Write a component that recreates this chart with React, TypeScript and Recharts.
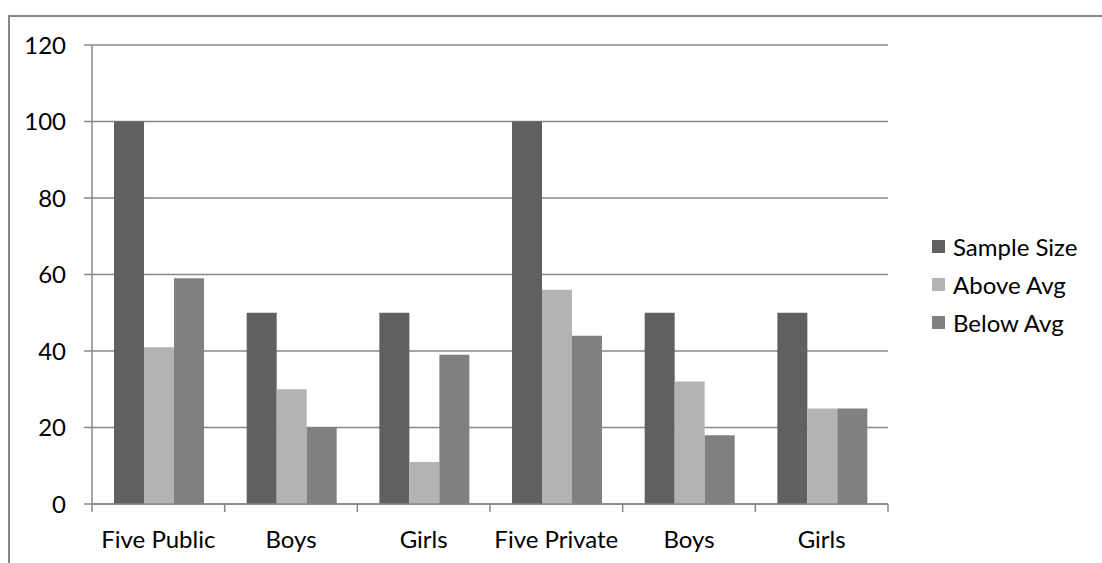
import { BarChart, Bar, XAxis, YAxis, CartesianGrid } from "recharts";

// categories and series values
const categories = ["Five Public", "Boys", "Girls", "Five Private", "Boys", "Girls"];
const sampleSize = [100, 50, 50, 100, 50, 50];
const aboveAvg = [41, 30, 11, 56, 32, 25];
const belowAvg = [59, 20, 39, 44, 18, 25];
const yTicks = [0, 20, 40, 60, 80, 100, 120];

const seriesNames = ["Sample Size", "Above Avg", "Below Avg"];
const seriesColors = ["#606060", "#b3b3b3", "#808080"];

const W = 1102;
const H = 563;
const Y_AXIS_W = 92;
const X_AXIS_H = 59;
const RIGHT = 214;
const TOP = 45;
const BAND = (W - Y_AXIS_W - RIGHT) / categories.length;

const FONT = "Lato, 'Noto Sans', sans-serif";
const AXIS_GRAY = "#878787";

const data = categories.map((name, i) => ({
  name,
  sample: sampleSize[i],
  above: aboveAvg[i],
  below: belowAvg[i],
}));

// x tick: category label centred, tick marks sit on the category boundaries
function CategoryTick(props: any) {
  const { x, y, payload, index } = props;
  const left = x - BAND / 2;
  const right = x + BAND / 2;
  return (
    <g>
      <line x1={left} y1={y} x2={left} y2={y + 8} stroke={AXIS_GRAY} strokeWidth={1.5} />
      {index === categories.length - 1 && (
        <line x1={right} y1={y} x2={right} y2={y + 8} stroke={AXIS_GRAY} strokeWidth={1.5} />
      )}
      <text x={x} y={y + 44} textAnchor="middle" fill="#000" fontSize={24} fontFamily={FONT}>
        {payload.value}
      </text>
    </g>
  );
}

function LegendBox() {
  return (
    <div
      style={{
        position: "absolute",
        left: 932,
        top: 227,
        fontFamily: FONT,
        fontSize: 24,
        color: "#000",
      }}
    >
      {seriesNames.map((n, i) => (
        <div key={n} style={{ display: "flex", alignItems: "center", height: 38, whiteSpace: "nowrap" }}>
          <span
            style={{
              display: "inline-block",
              width: 13,
              height: 13,
              background: seriesColors[i],
              marginRight: 8,
            }}
          />
          <span>{n}</span>
        </div>
      ))}
    </div>
  );
}

export default function App() {
  return (
    <div style={{ position: "absolute", left: 0, top: 0, width: W, height: H, overflow: "hidden", background: "#fff" }}>
      <div
        style={{
          position: "absolute",
          left: 8,
          top: 15,
          width: W,
          height: H,
          border: "2px solid #878787",
          boxSizing: "border-box",
        }}
      />
      <div style={{ position: "absolute", left: 0, top: 0 }}>
        <BarChart
          width={W}
          height={H}
          data={data}
          margin={{ top: TOP, right: RIGHT, left: 0, bottom: 0 }}
          barCategoryGap="16.6%"
          barGap={0}
        >
          <CartesianGrid vertical={false} stroke={AXIS_GRAY} strokeWidth={1.5} />
          <XAxis
            dataKey="name"
            height={X_AXIS_H}
            tickSize={0}
            tickMargin={0}
            tickLine={false}
            axisLine={{ stroke: AXIS_GRAY, strokeWidth: 1.5 }}
            tick={<CategoryTick />}
            interval={0}
          />
          <YAxis
            width={Y_AXIS_W}
            domain={[0, 120]}
            ticks={yTicks}
            interval={0}
            tickSize={8}
            tickMargin={18}
            tickLine={{ stroke: AXIS_GRAY, strokeWidth: 1.5 }}
            axisLine={{ stroke: AXIS_GRAY, strokeWidth: 1.5 }}
            tick={{ fill: "#000", fontSize: 24, fontFamily: FONT }}
          />
          <Bar dataKey="sample" name={seriesNames[0]} fill={seriesColors[0]} isAnimationActive={false} />
          <Bar dataKey="above" name={seriesNames[1]} fill={seriesColors[1]} isAnimationActive={false} />
          <Bar dataKey="below" name={seriesNames[2]} fill={seriesColors[2]} isAnimationActive={false} />
        </BarChart>
      </div>
      <LegendBox />
    </div>
  );
}
